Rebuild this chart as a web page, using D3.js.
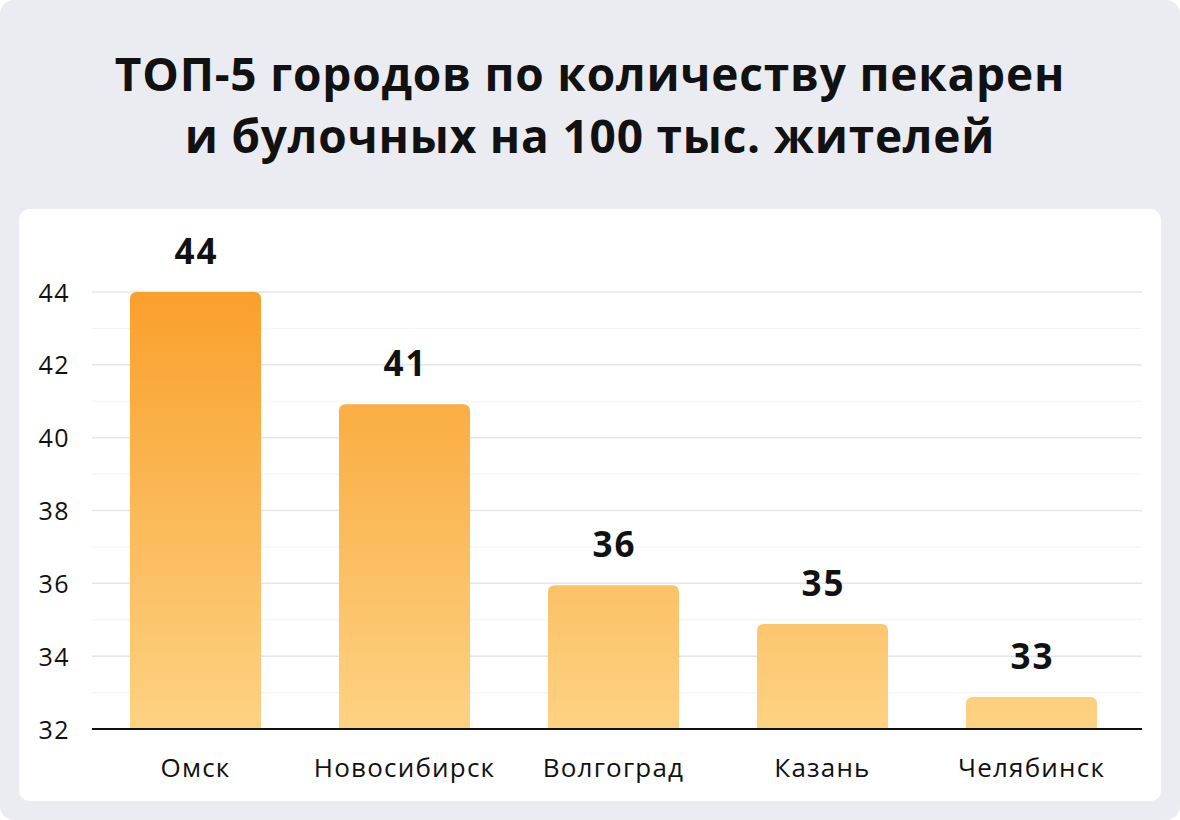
<!DOCTYPE html>
<html><head><meta charset="utf-8">
<script src="https://cdn.jsdelivr.net/npm/d3@7"></script>
<style>
html,body{margin:0;padding:0;background:#fff;}
svg{display:block;}
</style></head>
<body>
<script>
const categories = ["Омск","Новосибирск","Волгоград","Казань","Челябинск"];
const values = [44,40.92,35.95,34.88,32.88];
const yTicks = [32,34,36,38,40,42,44];
const minorTicks = [33,35,37,39,41,43];
const titleLines = ["ТОП-5 городов по количеству пекарен","и булочных на 100 тыс. жителей"];

const W=1180,H=820;
const svg=d3.select("body").append("svg").attr("width",W).attr("height",H);
const FONT="'Open Sans','Noto Sans',sans-serif";

svg.append("rect").attr("x",0).attr("y",0).attr("width",W).attr("height",H).attr("rx",14).attr("fill","#ebecf1");
svg.append("rect").attr("x",19).attr("y",209).attr("width",1142).attr("height",592).attr("rx",10).attr("fill","#fff");

svg.selectAll("text.title").data(titleLines).enter().append("text")
  .attr("x",590).attr("y",(d,i)=>91+i*62).attr("text-anchor","middle")
  .attr("font-family",FONT).attr("font-weight",700).attr("font-size",46)
  .attr("letter-spacing",0.8).attr("fill","#111")
  .text(d=>d);

const x=d3.scaleBand().domain(categories).range([91,1136]).paddingInner(0.373).paddingOuter(0.1865);
const y=d3.scaleLinear().domain([32,44]).range([729,292]);

const defs=svg.append("defs");
const g=defs.append("linearGradient").attr("id","bg").attr("gradientUnits","userSpaceOnUse")
  .attr("x1",0).attr("x2",0).attr("y1",y(44)).attr("y2",y(32));
g.append("stop").attr("offset","0%").attr("stop-color","#f9a02c");
g.append("stop").attr("offset","100%").attr("stop-color","#fdd283");

// grid
svg.append("g").selectAll("line").data(minorTicks).enter().append("line")
  .attr("x1",92).attr("x2",1142).attr("y1",d=>y(d)).attr("y2",d=>y(d))
  .attr("stroke","#f3f3f5").attr("stroke-width",1);
svg.append("g").selectAll("line").data(yTicks.filter(d=>d!==32)).enter().append("line")
  .attr("x1",92).attr("x2",1142).attr("y1",d=>y(d)).attr("y2",d=>y(d))
  .attr("stroke","#e6e6ea").attr("stroke-width",1.5);

// y axis labels
const ya=svg.append("g").attr("transform","translate(70,0)")
  .call(d3.axisLeft(y).tickValues(yTicks).tickSize(0).tickPadding(0));
ya.select(".domain").remove();
ya.selectAll("text").attr("font-family",FONT).attr("font-size",25).attr("letter-spacing",1.5)
  .attr("fill","#111").attr("dy","0.36em");

// bars with rounded top
const r=7;
svg.append("g").selectAll("path").data(values).enter().append("path")
  .attr("fill","url(#bg)")
  .attr("d",(d,i)=>{
    const x0=x(categories[i]),w=x.bandwidth(),y0=y(d),yb=y(32);
    return `M${x0},${yb}V${y0+r}Q${x0},${y0} ${x0+r},${y0}H${x0+w-r}Q${x0+w},${y0} ${x0+w},${y0+r}V${yb}Z`;
  });

// value labels
svg.append("g").selectAll("text").data(values).enter().append("text")
  .attr("x",(d,i)=>x(categories[i])+x.bandwidth()/2+1).attr("y",d=>y(d)-28)
  .attr("text-anchor","middle").attr("font-family",FONT).attr("font-weight",700)
  .attr("font-size",35).attr("letter-spacing",2).attr("fill","#111").text(d=>d3.format(".0f")(d));

// x axis
const xa=svg.append("g").attr("transform",`translate(0,${y(32)})`)
  .call(d3.axisBottom(x).tickSize(0).tickPadding(0));
xa.select(".domain").remove();
xa.selectAll("text").attr("font-family",FONT).attr("font-size",26).attr("letter-spacing",1.2)
  .attr("fill","#111").attr("dy",null).attr("y",48);
svg.append("line").attr("x1",92).attr("x2",1142).attr("y1",y(32)).attr("y2",y(32))
  .attr("stroke","#111").attr("stroke-width",2);
</script>
</body></html>
